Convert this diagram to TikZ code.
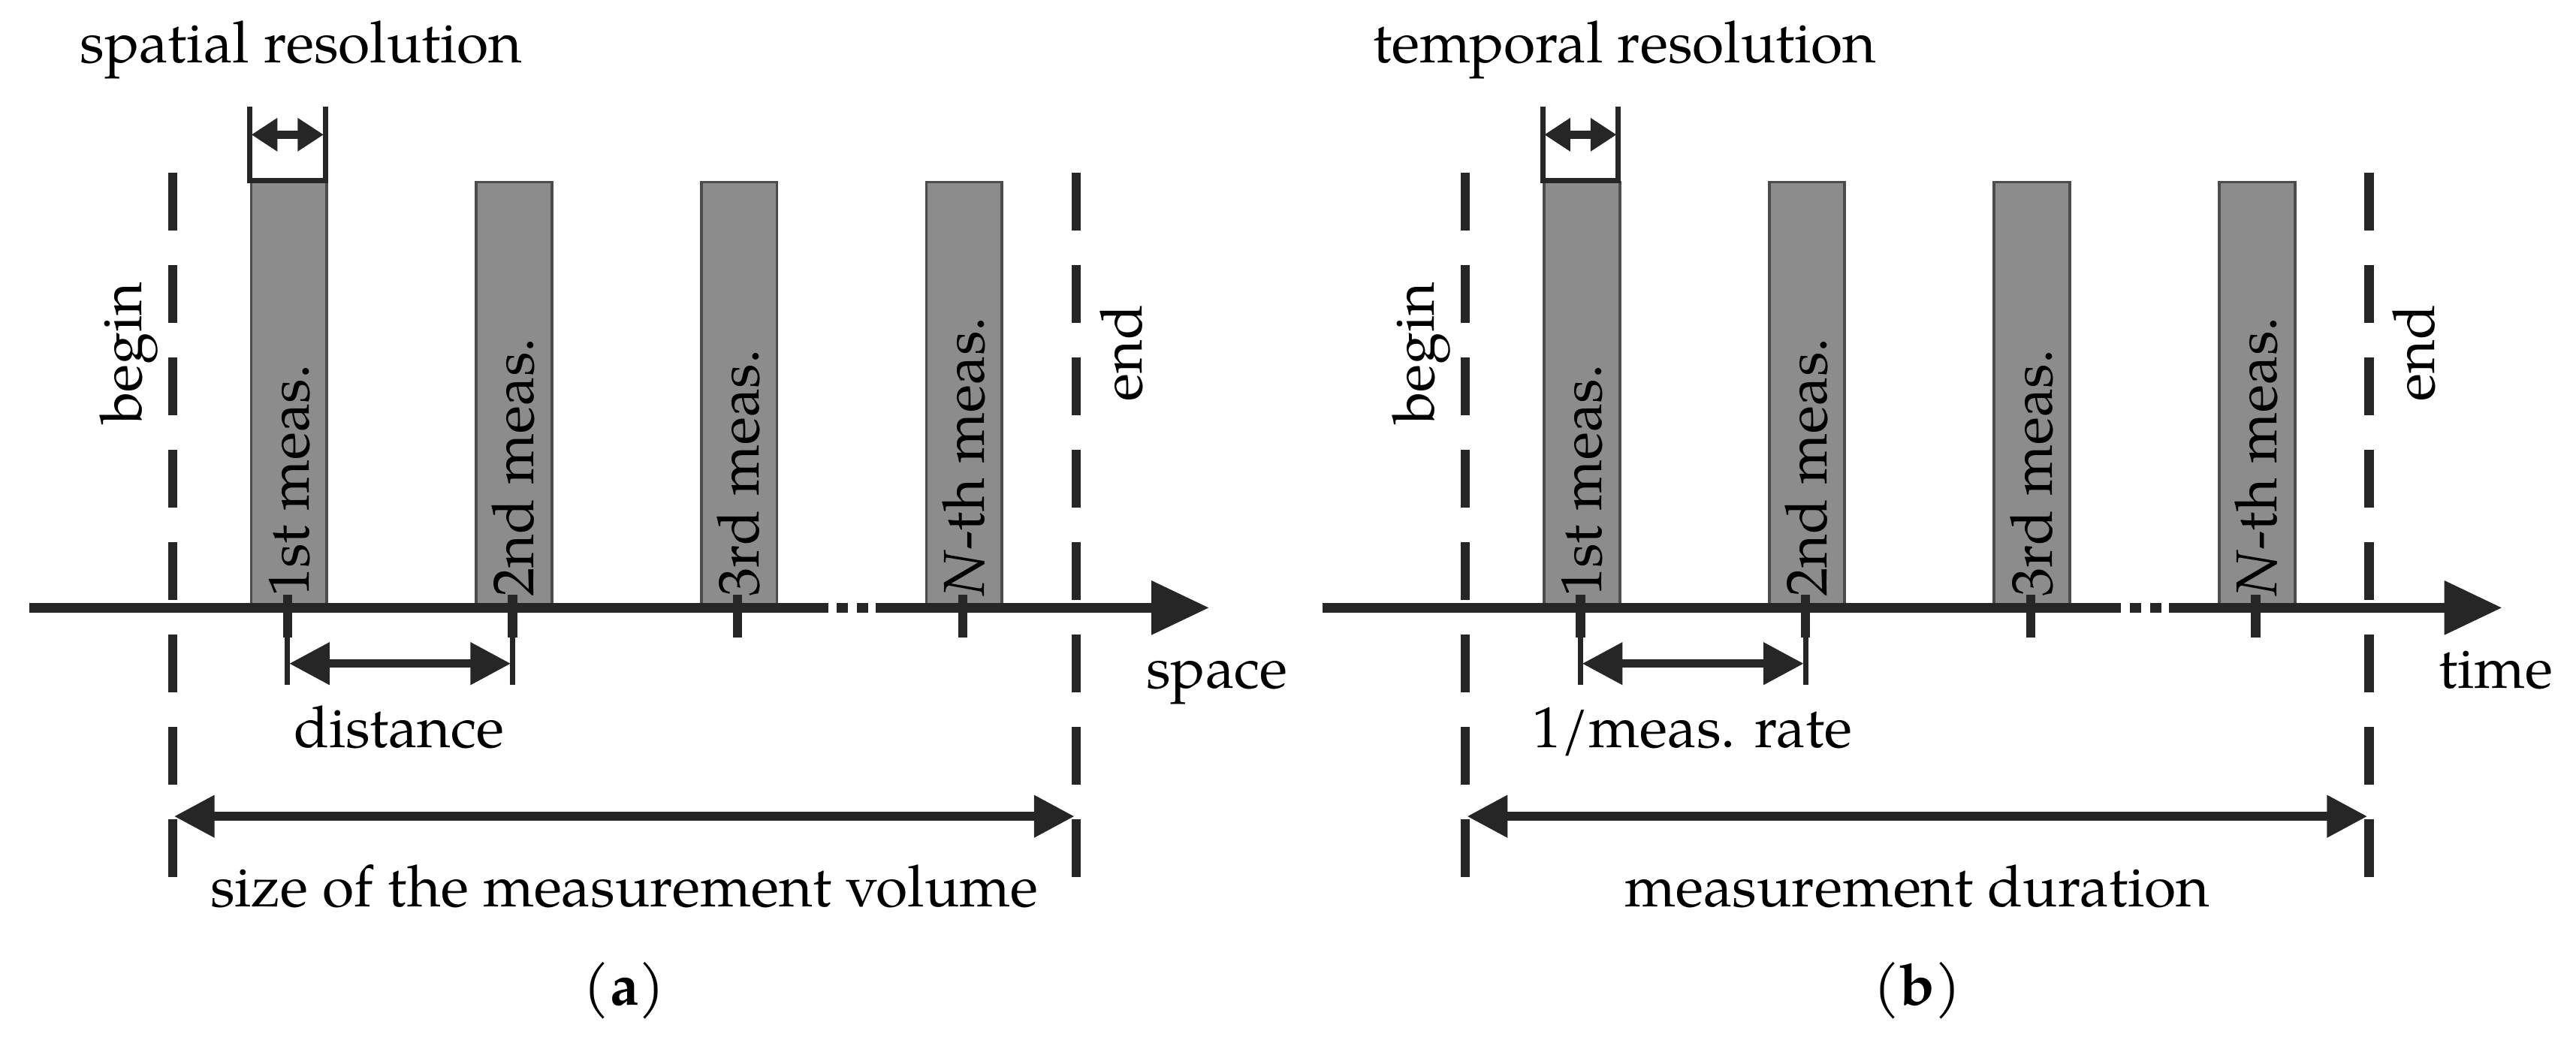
\documentclass[tikz,border=0pt]{standalone}
\usepackage{fontspec}
\setmainfont{TeX Gyre Pagella}
\usetikzlibrary{arrows.meta}
\begin{document}
\begin{tikzpicture}[x=0.01cm,y=0.01cm,
  ln/.style={line width=1.6pt,color=black!85},
  dsh/.style={line width=1.6pt,color=black!85,dash pattern=on 10pt off 6pt},
  bar/.style={fill=black!45,draw=black!70,line width=0.5pt},
  dar/.style={line width=1.5pt,color=black!85,{Triangle[length=7pt,width=7pt]}-{Triangle[length=7pt,width=7pt]}},
  sar/.style={line width=1.5pt,color=black!85,{Triangle[length=4.5pt,width=5.5pt]}-{Triangle[length=4.5pt,width=5.5pt]}},
  thin/.style={line width=0.9pt,color=black!85},
  lab/.style={font=\fontsize{10}{12}\selectfont,inner sep=0pt}]
\useasboundingbox (0,0) rectangle (1568,-631);
\foreach \dx/\cap in {0/a,787/b}{
\begin{scope}[xshift=\dx*0.01cm]
  \foreach \i/\x in {1/152,2/289,3/426,4/563}{
    \node[bar,minimum width=46*0.01cm,minimum height=260*0.01cm,anchor=north west,inner sep=0pt] (bar\cap\i) at (\x,-110) {};
  }
  \node[lab,rotate=90,anchor=base west] (bl\cap1) at (188,-364) {1st meas.};
  \node[lab,rotate=90,anchor=base west] (bl\cap2) at (325,-364) {2nd meas.};
  \node[lab,rotate=90,anchor=base west] (bl\cap3) at (462,-364) {3rd meas.};
  \node[lab,rotate=90,anchor=base west] (bl\cap4) at (599,-364) {\emph{N}-th meas.};
  \coordinate (a0\cap) at (18,-370);
  \coordinate (a1\cap) at (497,-370);
  \coordinate (a2\cap) at (533,-370);
  \coordinate (a3\cap) at (736,-370);
  \draw[ln] (a0\cap) -- (a1\cap);
  \draw[ln,dash pattern=on 2pt off 1.5pt] (a1\cap) -- (a2\cap);
  \draw[ln,-{Triangle[length=10pt,width=9pt]}] (a2\cap) -- (a3\cap);
  \foreach \x in {175,312,449,586} \draw[ln] (\x,-362) -- (\x,-388);
  \draw[thin] (175,-388) -- (175,-417);
  \draw[thin] (312,-388) -- (312,-417);
  \draw[dar] (176,-404) -- (311,-404);
  \draw[thin] (152,-65) -- (152,-110) -- (198,-110) -- (198,-65);
  \draw[sar] (153,-82) -- (197,-82);
  \draw[dsh] (105,-105) -- (105,-555);
  \draw[dsh] (655,-105) -- (655,-555);
  \draw[dar] (106,-497) -- (654,-497);
  \node[lab,rotate=90,anchor=base] (beg\cap) at (86,-215) {begin};
  \node[lab,rotate=90,anchor=base] (end\cap) at (695,-215) {end};
  \node[lab,anchor=base] (cap\cap) at (380,-612) {(\textbf{\cap})};
\end{scope}}
\node[lab,anchor=base west] (resa) at (48,-38) {spatial resolution};
\node[lab,anchor=base west] (resb) at (835,-38) {temporal resolution};
\node[lab,anchor=base west] (axa) at (697,-419) {space};
\node[lab,anchor=base west] (axb) at (1484,-419) {time};
\node[lab,anchor=base] (dista) at (243,-455) {distance};
\node[lab,anchor=base] (distb) at (1030,-455) {1/meas. rate};
\node[lab,anchor=base] (tota) at (380,-552) {size of the measurement volume};
\node[lab,anchor=base] (totb) at (1167,-552) {measurement duration};
\end{tikzpicture}
\end{document}
